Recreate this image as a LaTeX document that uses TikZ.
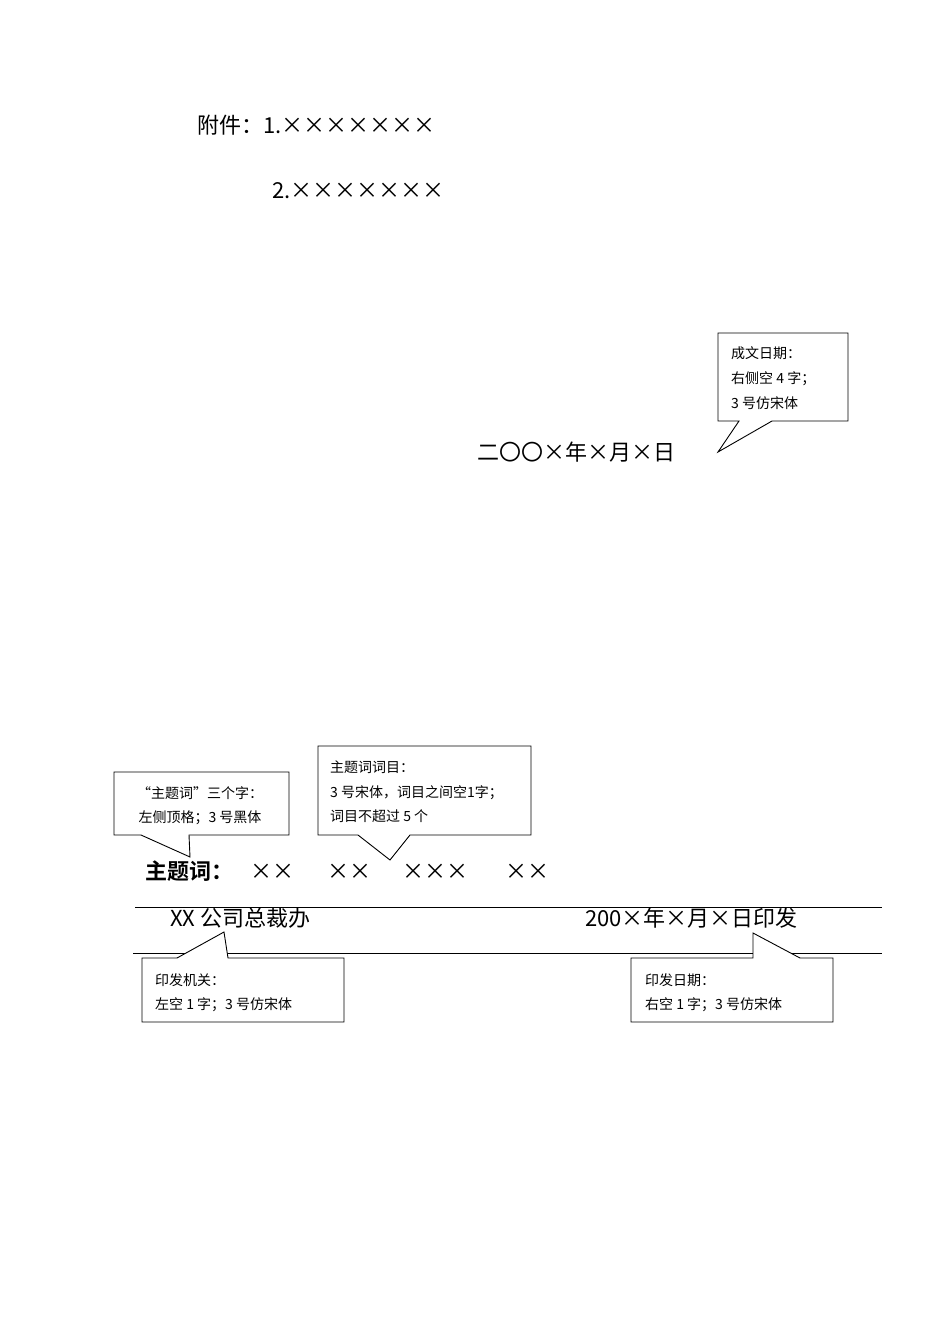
\documentclass[tikz,border=0pt]{standalone}
\usepackage{fontspec}
\setmainfont{Noto Sans CJK SC}
\newfontfamily\cjkb{Noto Sans CJK SC Bold}
\tikzset{
  txt/.style={anchor=base west,inner sep=0pt,font=\fontsize{22}{24}\selectfont},
  small/.style={anchor=base west,inner sep=0pt,font=\fontsize{14}{16}\selectfont},
  callout/.style={draw=black,fill=white,line width=0.9pt,line join=miter},
  rule/.style={line width=0.9pt}
}
\begin{document}
\begin{tikzpicture}[x=1pt,y=-1pt]
\useasboundingbox (0,0) rectangle (950,1344);
% top
\node[txt] (att1) at (197,133) {附件：1.×××××××};
\node[txt] (att2) at (272,198) {2.×××××××};
% date callout
\draw[callout] (718,333) -- (848,333) -- (848,421) -- (772,421) -- (718,452) -- (739,421) -- (718,421) -- cycle;
\node[small] (c1a) at (731,358) {成文日期：};
\node[small] (c1b) at (731,383) {右侧空 4 字；};
\node[small] (c1c) at (731,408) {3 号仿宋体};
\node[txt] (date) at (477,460) {二〇〇×年×月×日};
% subject callouts
\draw[callout] (114,772) -- (289,772) -- (289,835) -- (189,835) -- (190,857) -- (141,835) -- (114,835) -- cycle;
\node[small,anchor=base] (c2a) at (200,798) {“主题词”三个字：};
\node[small,anchor=base] (c2b) at (200,822) {左侧顶格；3 号黑体};
\draw[callout] (318,746) -- (531,746) -- (531,835) -- (410,835) -- (390,860) -- (358,835) -- (318,835) -- cycle;
\node[small] (c3a) at (330,772) {主题词词目：};
\node[small] (c3b) at (330,797) {3 号宋体，词目之间空1字；};
\node[small] (c3c) at (330,821) {词目不超过 5 个};
\node[txt,font=\cjkb\fontsize{22}{24}\selectfont] (kw) at (145,879) {主题词：};
\node[txt] (k1) at (250,879) {××};
\node[txt] (k2) at (327,879) {××};
\node[txt] (k3) at (402,879) {×××};
\node[txt] (k4) at (505,879) {××};
% rules
\draw[rule] (135,907) -- (882,907);
\draw[rule] (133,953) -- (882,953);
\node[txt] (org) at (170,926) {XX 公司总裁办};
\node[txt] (pdate) at (585,926) {200×年×月×日印发};
% bottom callouts
\draw[callout] (142,958) -- (177,958) -- (224,932) -- (228,958) -- (344,958) -- (344,1022) -- (142,1022) -- cycle;
\node[small] (c4a) at (155,985) {印发机关：};
\node[small] (c4b) at (155,1009) {左空 1 字；3 号仿宋体};
\draw[callout] (631,958) -- (753,958) -- (753,933) -- (800,958) -- (833,958) -- (833,1022) -- (631,1022) -- cycle;
\node[small] (c5a) at (645,985) {印发日期：};
\node[small] (c5b) at (645,1009) {右空 1 字；3 号仿宋体};
\end{tikzpicture}
\end{document}
